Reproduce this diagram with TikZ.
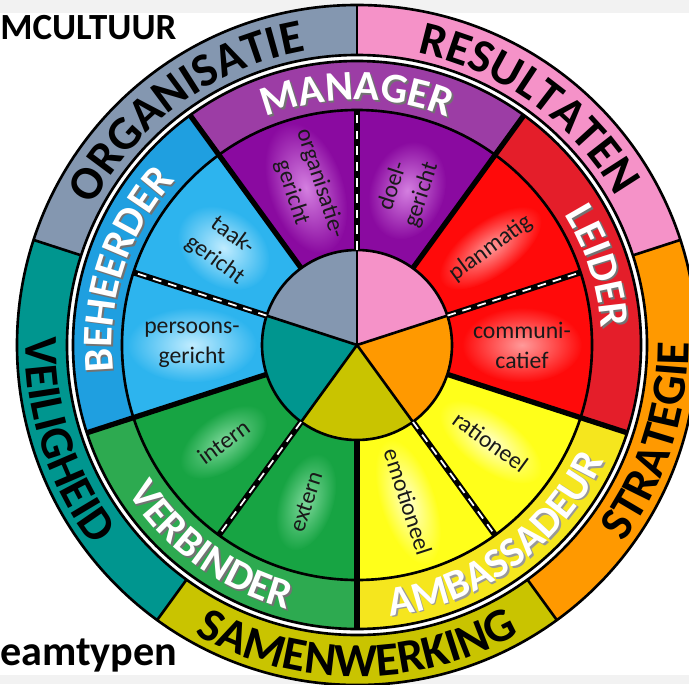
\documentclass[tikz,border=0pt]{standalone}
\usepackage{fontspec}
\setmainfont{Carlito}
\usepackage{tikz}
\usetikzlibrary{decorations.text}
\usepackage{color}

\definecolor{stripgrey}{HTML}{F2F2F2}
\definecolor{ringgrey}{HTML}{8497B0}
\definecolor{ringpink}{HTML}{F592C8}
\definecolor{ringorange}{HTML}{FF9900}
\definecolor{ringolive}{HTML}{C9C400}
\definecolor{ringteal}{HTML}{00968F}
\definecolor{mgrband}{HTML}{9C3DA5}
\definecolor{mgrseg}{HTML}{8A0AA0}
\definecolor{mgrglow}{HTML}{D47FE0}
\definecolor{ldrband}{HTML}{E41E2A}
\definecolor{ldrseg}{HTML}{FF0A0A}
\definecolor{ldrglow}{HTML}{FF9A9A}
\definecolor{ambband}{HTML}{F5E61E}
\definecolor{ambseg}{HTML}{FFFF1A}
\definecolor{ambglow}{HTML}{FFFFC8}
\definecolor{vbdband}{HTML}{2DAA50}
\definecolor{vbdseg}{HTML}{17A443}
\definecolor{vbdglow}{HTML}{7ED89B}
\definecolor{bhdband}{HTML}{1F9FE0}
\definecolor{bhdseg}{HTML}{2DB4EE}
\definecolor{bhdglow}{HTML}{C0ECFF}

\newcommand{\ringfont}{\fontsize{27}{28}\selectfont\bfseries}
\newcommand{\typefont}{\fontsize{24}{25}\selectfont\bfseries}

\begin{document}
\begin{tikzpicture}[
  rim/.style={line width=1.5pt},
  typeline/.style={line width=3pt},
  seamline/.style={line width=3.4pt},
  seamdash/.style={white, line width=1pt, dash pattern=on 5pt off 4pt},
  typeshadow/.style={shift={(0.035,-0.035)}},
  seglabel/.style={font=\fontsize{13.5}{17}\selectfont, align=center, inner sep=0pt, text=black!90},
  cornertext/.style={font=\fontsize{21}{22}\selectfont\bfseries, anchor=base west, inner sep=0pt}]
\useasboundingbox (-7.14,-6.78) rectangle (6.64,6.9);
\fill[white] (-7.14,-6.78) rectangle (6.64,6.9);
\fill[stripgrey] (-7.14,6.64) rectangle (6.64,6.9);
\fill[stripgrey] (-7.14,-6.78) rectangle (6.64,-6.6);

% outer ring
\fill[ringgrey]   (0,0) -- (90:6.8) arc (90:162:6.8) -- cycle;
\fill[ringpink]   (0,0) -- (18:6.8) arc (18:90:6.8) -- cycle;
\fill[ringorange] (0,0) -- (-54:6.8) arc (-54:18:6.8) -- cycle;
\fill[ringolive]  (0,0) -- (-126:6.8) arc (-126:-54:6.8) -- cycle;
\fill[ringteal]   (0,0) -- (162:6.8) arc (162:234:6.8) -- cycle;
\fill[white] (0,0) circle (5.8);

% type band
\fill[mgrband] (0,0) -- (54:5.68) arc (54:126:5.68) -- cycle;
\fill[ldrband] (0,0) -- (-18:5.68) arc (-18:54:5.68) -- cycle;
\fill[ambband] (0,0) -- (-90:5.68) arc (-90:-18:5.68) -- cycle;
\fill[vbdband] (0,0) -- (-162:5.68) arc (-162:-90:5.68) -- cycle;
\fill[bhdband] (0,0) -- (126:5.68) arc (126:198:5.68) -- cycle;

% segments
\fill[mgrseg] (0,0) -- (54:4.7) arc (54:126:4.7) -- cycle;
\fill[ldrseg] (0,0) -- (-18:4.7) arc (-18:54:4.7) -- cycle;
\fill[ambseg] (0,0) -- (-90:4.7) arc (-90:-18:4.7) -- cycle;
\fill[vbdseg] (0,0) -- (-162:4.7) arc (-162:-90:4.7) -- cycle;
\fill[bhdseg] (0,0) -- (126:4.7) arc (126:198:4.7) -- cycle;

% glow behind the segment texts
\begin{scope}[transform canvas={shift={(108:3.3)}, rotate=-72}]
\shade[inner color=mgrglow, outer color=mgrseg] (0,0) ellipse (1.35 and 0.75);
\end{scope}
\begin{scope}[transform canvas={shift={(72:3.25)}, rotate=72}]
\shade[inner color=mgrglow, outer color=mgrseg] (0,0) ellipse (1.0 and 0.75);
\end{scope}
\begin{scope}[transform canvas={shift={(36:3.3)}, rotate=36}]
\shade[inner color=ldrglow, outer color=ldrseg] (0,0) ellipse (1.2 and 0.55);
\end{scope}
\begin{scope}[transform canvas={shift={(0:3.3)}, rotate=0}]
\shade[inner color=ldrglow, outer color=ldrseg] (0,0) ellipse (1.2 and 0.75);
\end{scope}
\begin{scope}[transform canvas={shift={(-36:3.3)}, rotate=-36}]
\shade[inner color=ambglow, outer color=ambseg] (0,0) ellipse (1.2 and 0.55);
\end{scope}
\begin{scope}[transform canvas={shift={(-72:3.3)}, rotate=-72}]
\shade[inner color=ambglow, outer color=ambseg] (0,0) ellipse (1.3 and 0.55);
\end{scope}
\begin{scope}[transform canvas={shift={(-108:3.3)}, rotate=72}]
\shade[inner color=vbdglow, outer color=vbdseg] (0,0) ellipse (1.0 and 0.55);
\end{scope}
\begin{scope}[transform canvas={shift={(-144:3.3)}, rotate=36}]
\shade[inner color=vbdglow, outer color=vbdseg] (0,0) ellipse (1.0 and 0.55);
\end{scope}
\begin{scope}[transform canvas={shift={(180:3.3)}, rotate=0}]
\shade[inner color=bhdglow, outer color=bhdseg] (0,0) ellipse (1.3 and 0.75);
\end{scope}
\begin{scope}[transform canvas={shift={(144:3.3)}, rotate=-36}]
\shade[inner color=bhdglow, outer color=bhdseg] (0,0) ellipse (1.0 and 0.75);
\end{scope}

% hub
\fill[ringgrey]   (0,0) -- (90:1.9) arc (90:162:1.9) -- cycle;
\fill[ringpink]   (0,0) -- (18:1.9) arc (18:90:1.9) -- cycle;
\fill[ringorange] (0,0) -- (-54:1.9) arc (-54:18:1.9) -- cycle;
\fill[ringolive]  (0,0) -- (-126:1.9) arc (-126:-54:1.9) -- cycle;
\fill[ringteal]   (0,0) -- (162:1.9) arc (162:234:1.9) -- cycle;

% rims and dividers
\draw[rim] (0,0) circle (6.8);
\draw[rim] (0,0) circle (5.8);
\draw[rim] (0,0) circle (5.68);
\draw[rim] (0,0) circle (4.7);
\draw[rim] (0,0) circle (1.9);
\draw[rim] (90:5.8) -- (90:6.8);
\draw[rim] (18:5.8) -- (18:6.8);
\draw[rim] (-54:5.8) -- (-54:6.8);
\draw[rim] (-126:5.8) -- (-126:6.8);
\draw[rim] (162:5.8) -- (162:6.8);
\draw[typeline] (126:1.9) -- (126:5.68);
\draw[typeline] (54:1.9) -- (54:5.68);
\draw[typeline] (-18:1.9) -- (-18:5.68);
\draw[typeline] (-90:1.9) -- (-90:5.68);
\draw[typeline] (198:1.9) -- (198:5.68);
\draw[seamline] (90:1.9) -- (90:4.7);
\draw[seamline] (18:1.9) -- (18:4.7);
\draw[seamline] (-54:1.9) -- (-54:4.7);
\draw[seamline] (-126:1.9) -- (-126:4.7);
\draw[seamline] (162:1.9) -- (162:4.7);
\draw[seamdash] (90:1.9) -- (90:4.7);
\draw[seamdash] (18:1.9) -- (18:4.7);
\draw[seamdash] (-54:1.9) -- (-54:4.7);
\draw[seamdash] (-126:1.9) -- (-126:4.7);
\draw[seamdash] (162:1.9) -- (162:4.7);
\draw[rim] (0,0) -- (90:1.9);
\draw[rim] (0,0) -- (18:1.9);
\draw[rim] (0,0) -- (-54:1.9);
\draw[rim] (0,0) -- (-126:1.9);
\draw[rim] (0,0) -- (162:1.9);

% outer ring texts
\path[decorate, decoration={text along path, text align=center, text={|\ringfont|ORGANISATIE}}] (162:5.97) arc (162:90:5.97);
\path[decorate, decoration={text along path, text align=center, text={|\ringfont|RESULTATEN}}] (90:5.97) arc (90:18:5.97);
\path[decorate, decoration={text along path, text align=center, text={|\ringfont|STRATEGIE}}] (-54:6.63) arc (-54:18:6.63);
\path[decorate, decoration={text along path, text align=center, text={|\ringfont|SAMENWERKING}}] (-126:6.63) arc (-126:-54:6.63);
\path[decorate, decoration={text along path, text align=center, text={|\ringfont|VEILIGHEID}}] (162:6.63) arc (162:234:6.63);

% type band texts, shadow first
\path[typeshadow, decorate, decoration={text along path, text align=center, text color=black!55, text={|\typefont|MANAGER}}] (126:4.9) arc (126:54:4.9);
\path[typeshadow, decorate, decoration={text along path, text align=center, text color=black!55, text={|\typefont|LEIDER}}] (54:4.9) arc (54:-18:4.9);
\path[typeshadow, decorate, decoration={text along path, text align=center, text color=black!40, text={|\typefont|AMBASSADEUR}}] (-90:5.46) arc (-90:-18:5.46);
\path[typeshadow, decorate, decoration={text along path, text align=center, text color=black!55, text={|\typefont|VERBINDER}}] (-162:5.46) arc (-162:-90:5.46);
\path[typeshadow, decorate, decoration={text along path, text align=center, text color=black!55, text={|\typefont|BEHEERDER}}] (198:4.9) arc (198:126:4.9);
\path[decorate, decoration={text along path, text align=center, text color=white, text={|\typefont|MANAGER}}] (126:4.9) arc (126:54:4.9);
\path[decorate, decoration={text along path, text align=center, text color=white, text={|\typefont|LEIDER}}] (54:4.9) arc (54:-18:4.9);
\path[decorate, decoration={text along path, text align=center, text color=white, text={|\typefont|AMBASSADEUR}}] (-90:5.46) arc (-90:-18:5.46);
\path[decorate, decoration={text along path, text align=center, text color=white, text={|\typefont|VERBINDER}}] (-162:5.46) arc (-162:-90:5.46);
\path[decorate, decoration={text along path, text align=center, text color=white, text={|\typefont|BEHEERDER}}] (198:4.9) arc (198:126:4.9);

% segment texts
\node[seglabel, rotate=-72] (orggericht) at (108:3.3) {organisatie-\\gericht};
\node[seglabel, rotate=72] (doelgericht) at (72:3.25) {doel-\\gericht};
\node[seglabel, rotate=36] (planmatig) at (36:3.3) {planmatig};
\node[seglabel] (communicatief) at (0:3.3) {communi-\\catief};
\node[seglabel, rotate=-36] (rationeel) at (-36:3.3) {rationeel};
\node[seglabel, rotate=-72] (emotioneel) at (-72:3.3) {emotioneel};
\node[seglabel, rotate=72] (extern) at (-108:3.3) {extern};
\node[seglabel, rotate=36] (intern) at (-144:3.3) {intern};
\node[seglabel] (persoonsgericht) at (180:3.3) {persoons-\\gericht};
\node[seglabel, rotate=-36] (taakgericht) at (144:3.3) {taak-\\gericht};

% corner titles
\node[cornertext] (teamcultuur) at (-7.14,6.1) {MCULTUUR};
\node[cornertext, font=\fontsize{24}{25}\selectfont\bfseries] (teamtypen) at (-7.14,-6.4) {eamtypen};
\end{tikzpicture}
\end{document}
